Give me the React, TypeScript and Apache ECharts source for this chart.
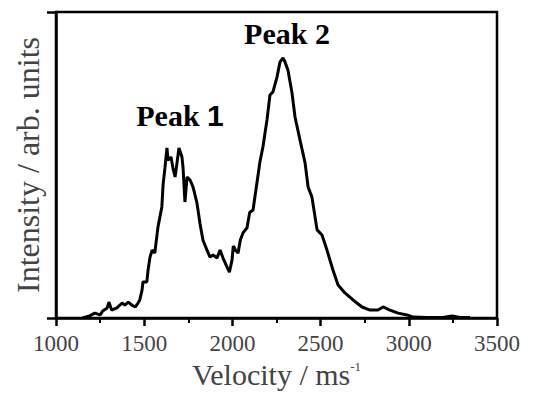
import React, { useEffect, useRef } from "react";
import * as echarts from "echarts";

const velocity = [
  1150, 1190, 1220, 1250, 1265, 1290, 1300, 1315, 1345, 1375, 1390, 1410, 1430, 1450, 1465, 1475,
  1488, 1493, 1515, 1522, 1533, 1545, 1560, 1578, 1600, 1607, 1618, 1629, 1635, 1652, 1663, 1675,
  1686, 1697, 1714, 1720, 1731, 1743, 1760, 1777, 1799, 1816, 1833, 1856, 1873, 1890, 1913, 1930,
  1947, 1969, 1983, 1998, 2005, 2020, 2032, 2045, 2060, 2083, 2098, 2117, 2139, 2156, 2173, 2196,
  2213, 2230, 2253, 2270, 2287, 2298, 2315, 2338, 2355, 2383, 2412, 2429, 2451, 2480, 2508, 2536,
  2570, 2599, 2638, 2684, 2735, 2780, 2825, 2854, 2893, 2939, 2990, 3024, 3103, 3194, 3245, 3290,
  3347,
];
const intensity = [
  0, 0.7, 1.6, 1.0, 2.3, 3.3, 5.2, 2.6, 3.3, 4.9, 4.2, 5.2, 4.2, 3.6, 4.9, 5.9,
  9.2, 11.8, 11.8, 15.7, 19.9, 22.2, 21.2, 29.7, 36.3, 43.5, 49.3, 55.6, 51.6, 52.6, 49.0, 46.1,
  50.7, 55.6, 52.6, 49.3, 37.9, 46.1, 45.1, 42.8, 37.6, 31.0, 25.5, 22.2, 19.9, 20.6, 19.6, 22.2,
  19.6, 16.7, 15.0, 19.0, 23.5, 22.0, 21.2, 25.5, 27.8, 29.5, 34.5, 35.3, 44.1, 51.0, 55.9, 64.7,
  72.9, 73.9, 78.8, 83.7, 85.0, 83.7, 81.0, 73.5, 65.7, 58.2, 50.7, 42.8, 39.5, 28.8, 27.1, 22.2,
  15.7, 10.8, 8.2, 5.9, 3.6, 2.6, 2.6, 3.6, 2.6, 1.6, 1.0, 0.3, 0.2, 0.2, 0.7, 0.2,
  0.2,
];
const xTicks = [1000, 1500, 2000, 2500, 3000, 3500];
const xTitle = "Velocity / ms";
const yTitle = "Intensity / arb. units";
const peakLabels = ["Peak ", "1", "Peak 2"];

export default function App() {
  const ref = useRef<HTMLDivElement>(null);
  useEffect(() => {
    if (!ref.current) return;
    const chart = echarts.init(ref.current, undefined, { renderer: "svg" });
    const serif = "'Liberation Serif', 'DejaVu Serif', serif";
    chart.setOption({
      animation: false,
      backgroundColor: "#ffffff",
      grid: {
        left: 56,
        right: 39,
        top: 12,
        bottom: 78,
        show: true,
        borderColor: "#000",
        borderWidth: 2.5,
        backgroundColor: "transparent",
      },
      xAxis: {
        type: "value",
        min: xTicks[0],
        max: xTicks[xTicks.length - 1],
        interval: 500,
        name: xTitle + "{sup|-1}",
        nameLocation: "middle",
        nameGap: 41,
        nameTextStyle: {
          fontFamily: serif,
          fontSize: 30,
          color: "#444",
          rich: {
            sup: { fontFamily: serif, fontSize: 13, color: "#444", verticalAlign: "top", padding: [0, 0, 14, 0] },
          },
        },
        axisLine: { show: true, onZero: false, lineStyle: { color: "#000", width: 2.5 } },
        axisTick: { show: true, inside: false, length: 8, lineStyle: { color: "#000", width: 2.5 } },
        minorTick: { show: true, splitNumber: 2, length: 5, lineStyle: { color: "#000", width: 2 } },
        axisLabel: {
          fontFamily: serif,
          fontSize: 23,
          color: "#444",
          margin: 14,
          formatter: (v: number) => String(v),
        },
        splitLine: { show: false },
      },
      yAxis: {
        type: "value",
        min: 0,
        max: 100,
        interval: 100,
        name: yTitle,
        nameLocation: "middle",
        nameGap: 12,
        nameTextStyle: { fontFamily: serif, fontSize: 32, color: "#444" },
        axisLine: { show: true, lineStyle: { color: "#000", width: 2.5 } },
        axisTick: { show: true, inside: false, length: 9, lineStyle: { color: "#000", width: 2.5 } },
        axisLabel: { show: false },
        splitLine: { show: false },
      },
      series: [
        {
          type: "line",
          data: velocity.map((v, i) => [v, intensity[i]]),
          showSymbol: false,
          symbol: "none",
          lineStyle: { color: "#000", width: 3 },
          smooth: false,
        },
      ],
      graphic: [
        {
          type: "text",
          x: 180,
          y: 100,
          style: {
            text: "{a|" + peakLabels[0] + "}{b|" + peakLabels[1] + "}",
            align: "center",
            verticalAlign: "top",
            rich: {
              a: { fontFamily: serif, fontWeight: "bold", fontSize: 30, fill: "#000" },
              b: { fontFamily: "'Liberation Sans', Arial, sans-serif", fontWeight: "bold", fontSize: 30, fill: "#000" },
            },
          },
        },
        {
          type: "text",
          x: 287,
          y: 18,
          style: {
            text: peakLabels[2],
            align: "center",
            verticalAlign: "top",
            fontFamily: serif,
            fontWeight: "bold",
            fontSize: 30,
            fill: "#000",
          },
        },
      ],
    });
    return () => chart.dispose();
  }, []);
  return (
    <div
      ref={ref}
      style={{ position: "fixed", left: 0, top: 0, width: 536, height: 396, background: "#fff" }}
    />
  );
}
